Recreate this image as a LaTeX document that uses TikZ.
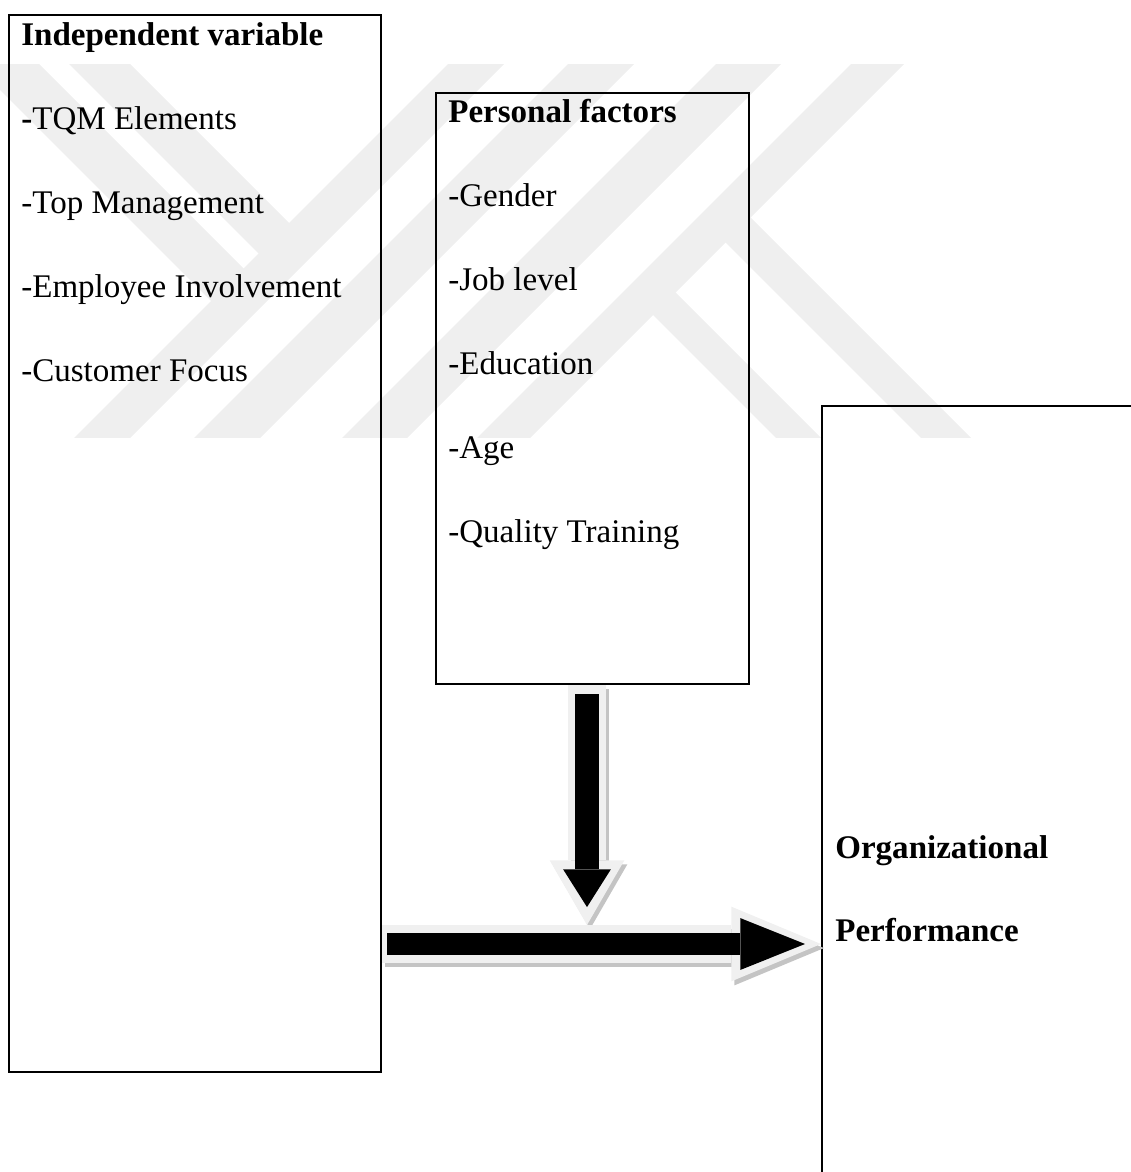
\documentclass[tikz,border=0pt]{standalone}
\usepackage{fontspec}
\setmainfont{Liberation Serif}
\usetikzlibrary{positioning,arrows.meta}

\definecolor{wmgray}{RGB}{239,239,239}
\definecolor{halogray}{RGB}{240,240,240}
\definecolor{shadegray}{RGB}{196,196,196}

\begin{document}
\begin{tikzpicture}[
    x=0.02cm, y=-0.02cm,
    node distance=1.68cm,
    frame/.style={rectangle, draw, line width=1.25pt, inner sep=0pt, anchor=north west},
    entry/.style={inner sep=0pt, anchor=base west, font=\fontsize{18.8}{22}\selectfont},
    title/.style={entry, font=\fontsize{18.8}{22}\selectfont\bfseries},
    fat/.style n args={4}{line width=#1, -{Triangle[length=#2, width=#3, line width=0pt]}, draw=#4},
    dropped/.style={transform canvas={xshift=1.7pt, yshift=-2.3pt}}
]
\useasboundingbox (0,0) rectangle (1131,1172);
\clip (0,0) rectangle (1131,1172);

\begin{scope}
\clip (0,65) rectangle (1131,437);
\fill[wmgray] (472,40) -- (528,40) -- (108,460) -- (52,460) -- cycle;
\fill[wmgray] (592,40) -- (658,40) -- (238,460) -- (172,460) -- cycle;
\fill[wmgray] (740,40) -- (805,40) -- (385,460) -- (320,460) -- cycle;
\fill[wmgray] (875,40) -- (928,40) -- (508,460) -- (455,460) -- cycle;
\fill[wmgray] (-50,40) -- (15,40) -- (257.5,282.5) -- (225,315) -- cycle;
\fill[wmgray] (45,40) -- (106,40) -- (303,237) -- (272.5,267.5) -- cycle;
\fill[wmgray] (712,229) -- (737,204) -- (993,460) -- (943,460) -- cycle;
\fill[wmgray] (639.5,301.5) -- (662,279) -- (843,460) -- (798,460) -- cycle;
\end{scope}

\node[frame, minimum width=7.44cm, minimum height=21.14cm] (indep) at (8,14) {};
\node[frame, minimum width=6.26cm, minimum height=11.82cm] (pers) at (435,92) {};
\node[frame, minimum width=8cm, minimum height=16cm] (perf) at (821,405) {};

\node[title] (indephead) at (21,46) {Independent variable};
\node[entry, below=of indephead.base west, anchor=base west] (tqm) {\textbf{-}TQM Elements};
\node[entry, below=of tqm.base west, anchor=base west] (topmgmt) {-Top Management};
\node[entry, below=of topmgmt.base west, anchor=base west] (involve) {-Employee Involvement};
\node[entry, below=of involve.base west, anchor=base west] (focus) {-Customer Focus};

\node[title] (pershead) at (448,123) {Personal factors};
\node[entry, below=of pershead.base west, anchor=base west] (gender) {-Gender};
\node[entry, below=of gender.base west, anchor=base west] (joblevel) {-Job level};
\node[entry, below=of joblevel.base west, anchor=base west] (educ) {-Education};
\node[entry, below=of educ.base west, anchor=base west] (age) {-Age};
\node[entry, below=of age.base west, anchor=base west] (training) {-Quality Training};

\node[title] (orghead) at (835,858) {Organizational};
\node[title, below=of orghead.base west, anchor=base west] (perfhead) {Performance};

\coordinate (meet) at (587,925);
\coordinate (flow) at (0,944);

\draw[fat={22.1pt}{36.8pt}{42.5pt}{shadegray}, dropped] (pers.south -| meet) -- (meet);
\draw[fat={21.5pt}{51pt}{42.5pt}{shadegray}, dropped] (indep.east |- flow) -- (perf.west |- flow);
\draw[fat={22.1pt}{36.8pt}{42.5pt}{halogray}] (pers.south -| meet) -- (meet);
\draw[fat={21.5pt}{51pt}{42.5pt}{halogray}] (indep.east |- flow) -- (perf.west |- flow);
\draw[fat={13.6pt}{21.5pt}{27.2pt}{black}, shorten <=5.1pt, shorten >=10.2pt] (pers.south -| meet) -- (meet);
\draw[fat={13pt}{36.8pt}{29.5pt}{black}, shorten <=2.8pt, shorten >=9.1pt] (indep.east |- flow) -- (perf.west |- flow);
\end{tikzpicture}
\end{document}
